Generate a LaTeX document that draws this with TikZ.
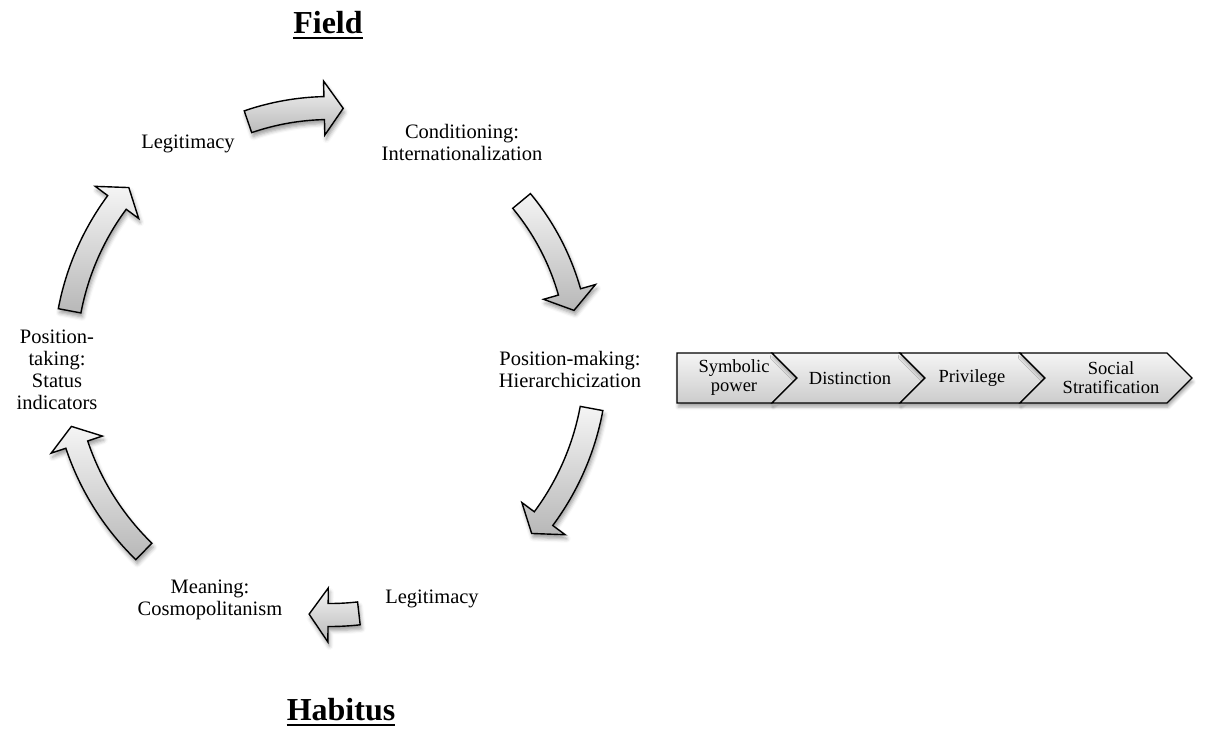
\documentclass[tikz,border=0pt]{standalone}
\usepackage{fontspec}
\setmainfont{Liberation Serif}
\usetikzlibrary{positioning,calc,shadows.blur}

% block arrow bent round the hub: #1 tail angle, #2 tip angle, #3 radius
\newcommand{\cyclearrow}[3]{%
  \pgfmathsetmacro{\headbase}{#2-19/#3*180/pi}
  \path[arrowbody,shift={(hub)}]
    (#1:{#3+11.5}) arc[start angle=#1, end angle=\headbase, radius={#3+11.5}]
    -- (\headbase:{#3+27}) -- (#2:#3) -- (\headbase:{#3-27})
    -- (\headbase:{#3-11.5}) arc[start angle=\headbase, end angle=#1, radius={#3-11.5}]
    -- cycle;}

\tikzset{
  arrowbody/.style={draw=black, line width=1.4pt, line join=miter,
    top color=black!4, bottom color=black!28,
    blur shadow={shadow xshift=1.5pt, shadow yshift=-4pt, shadow blur radius=4pt, shadow opacity=40}},
  chevbody/.style={draw=black, line width=1.3pt,
    top color=black!4, bottom color=black!20,
    blur shadow={shadow xshift=1pt, shadow yshift=-4pt, shadow blur radius=3pt, shadow opacity=35}},
  label/.style={font=\fontsize{20.5}{22}\selectfont, align=center, inner sep=0pt},
  chevlabel/.style={font=\fontsize{18.5}{19}\selectfont, align=center, inner sep=0pt},
  title/.style={font=\fontsize{32}{36}\selectfont\bfseries, inner sep=0pt},
  underline/.style={line width=2.5pt}
}

\begin{document}
\begin{tikzpicture}[x=1pt,y=-1pt]
\useasboundingbox (0,0) rectangle (1217,729);
\coordinate (hub) at (330,360);

% titles
\node[title, anchor=base] (field) at (328,33) {Field};
\draw[underline] ([yshift=-5pt]field.base west) -- ([yshift=-5pt]field.base east);
\node[title, anchor=base] (habitus) at (341,720) {Habitus};
\draw[underline] ([yshift=-5pt]habitus.base west) -- ([yshift=-5pt]habitus.base east);

% the cycle (base = last line)
\node[label, anchor=base] (legitTop) at (188,148) {Legitimacy};
\node[label, anchor=base] (conditioning) at (462,160) {Conditioning:\\Internationalization};
\node[label, anchor=base] (posMaking) at (570,387) {Position-making:\\Hierarchicization};
\node[label, anchor=base] (legitBottom) at (432,603) {Legitimacy};
\node[label, anchor=base] (meaning) at (210,615) {Meaning:\\Cosmopolitanism};
\node[label, anchor=base] (posTaking) at (57,409) {Position-\\taking:\\Status\\indicators};

\cyclearrow{251}{273}{252}
\cyclearrow{320.3}{348.5}{249}
\cyclearrow{10.5}{40.7}{266}
\cyclearrow{83.5}{94.7}{255}
\cyclearrow{134.2}{165.6}{267}
\cyclearrow{190.7}{220.6}{265}

% process bar
\foreach \l/\r/\n in {677/772/0, 772/900/1, 900/1020/1, 1020/1167/1}
  \path[chevbody] (\l,353) -- (\r,353) -- (\r+25,378) -- (\r,403) -- (\l,403) -- (\l+25*\n,378) -- cycle;

\node[chevlabel] (symbolic) at (734,378) {Symbolic\\power};
\node[chevlabel] (distinction) at (850,378) {Distinction};
\node[chevlabel] (privilege) at (972,378) {Privilege};
\node[chevlabel] (stratification) at (1111,378) {Social\\Stratification};

\end{tikzpicture}
\end{document}
